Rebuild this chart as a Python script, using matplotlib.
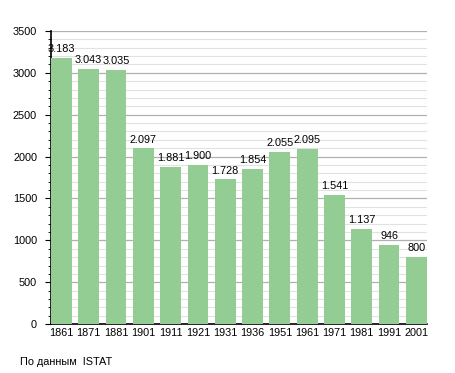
import matplotlib.pyplot as plt
from matplotlib.ticker import MultipleLocator

years = ["1861", "1871", "1881", "1901", "1911", "1921", "1931",
         "1936", "1951", "1961", "1971", "1981", "1991", "2001"]
population = [3183, 3043, 3035, 2097, 1881, 1900, 1728,
              1854, 2055, 2095, 1541, 1137, 946, 800]

plt.rcParams['font.family'] = ['Liberation Sans', 'DejaVu Sans']

fig = plt.figure(figsize=(4.55, 3.73), dpi=100)
ax = fig.add_axes([0.112, 0.131, 0.826, 0.786])

x = range(len(years))
w = 0.76
ax.bar(x, population, width=w, color="#93cd93", zorder=3)
for i, v in enumerate(population):
    ax.text(i, v + 45, f"{v:,}".replace(",", "."), ha="center", va="bottom",
            fontsize=7.8, zorder=4)

ax.set_xlim(-w / 2, len(years) - 1 + w / 2)
ax.set_ylim(0, 3500)
ax.set_xticks(list(x))
ax.set_xticklabels(years, fontsize=7.8)
ax.yaxis.set_major_locator(MultipleLocator(500))
ax.yaxis.set_minor_locator(MultipleLocator(100))
ax.tick_params(axis="y", labelsize=7.8, length=4, color="black", pad=6)
ax.tick_params(axis="y", which="minor", length=2)
ax.tick_params(axis="x", length=0, pad=2.5)
ax.grid(axis="y", which="major", color="#b0b0b0", lw=0.9, zorder=0)
ax.grid(axis="y", which="minor", color="#e2e2e2", lw=0.8, zorder=0)
for s in ["top", "right"]:
    ax.spines[s].set_visible(False)
ax.spines["left"].set_linewidth(1.2)
ax.spines["bottom"].set_linewidth(1.2)

fig.text(20 / 455, 1 - 362 / 373, "По данным  ISTAT", fontsize=7.8, va="center")

fig.savefig("out.png", dpi=100)
